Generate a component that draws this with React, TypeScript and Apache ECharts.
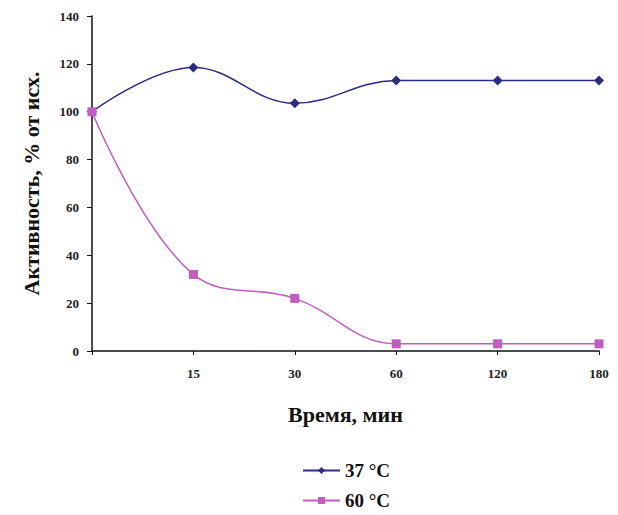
import React, { useEffect, useRef } from "react";
import * as echarts from "echarts";

// Time points (min); the origin has no label
const timeLabels = ["", "15", "30", "60", "120", "180"];
// Relative activity, % of initial
const activity37 = [100, 118.5, 103.5, 113, 113, 113];
const activity60 = [100, 32, 22, 3, 3, 3];
const seriesNames = ["37 °C", "60 °C"];

const FONT = "'Liberation Serif', 'Times New Roman', serif";

export default function App() {
  const ref = useRef<HTMLDivElement>(null);

  useEffect(() => {
    if (!ref.current) return;
    const chart = echarts.init(ref.current, undefined, { renderer: "svg" });
    chart.setOption({
      animation: false,
      backgroundColor: "#ffffff",
      grid: { left: 92, right: 19, top: 16, bottom: 164, containLabel: false },
      legend: {
        orient: "vertical",
        left: 297,
        top: 456,
        itemGap: 11,
        itemWidth: 37,
        itemHeight: 9,
        textStyle: { fontFamily: FONT, fontWeight: "bold", fontSize: 19, color: "#111" },
        data: seriesNames,
      },
      xAxis: {
        type: "category",
        boundaryGap: false,
        data: timeLabels,
        name: "Время, мин",
        nameLocation: "middle",
        nameGap: 52,
        nameTextStyle: { fontFamily: FONT, fontWeight: "bold", fontSize: 22, color: "#111" },
        axisLine: { lineStyle: { color: "#111", width: 1.5 } },
        axisTick: { show: true, length: 4, inside: false, lineStyle: { color: "#111" } },
        axisLabel: { fontFamily: FONT, fontWeight: "bold", fontSize: 13, color: "#222", margin: 16 },
        splitLine: { show: false },
      },
      yAxis: {
        type: "value",
        min: 0,
        max: 140,
        interval: 20,
        name: "Активность, % от исх.",
        nameLocation: "middle",
        nameRotate: 90,
        nameGap: 50,
        nameTextStyle: { fontFamily: FONT, fontWeight: "bold", fontSize: 22, color: "#111" },
        axisLine: { show: true, lineStyle: { color: "#111", width: 1.5 } },
        axisTick: { show: true, length: 5, lineStyle: { color: "#111" } },
        axisLabel: { fontFamily: FONT, fontWeight: "bold", fontSize: 13, color: "#222", margin: 13 },
        splitLine: { show: false },
      },
      series: [
        {
          name: seriesNames[0],
          type: "line",
          data: activity37,
          smooth: 0.4,
          symbol: "diamond",
          symbolSize: 10,
          itemStyle: { color: "#2b2b82" },
          lineStyle: { color: "#2b2b82", width: 1.5 },
        },
        {
          name: seriesNames[1],
          type: "line",
          data: activity60,
          smooth: 0.4,
          symbol: "rect",
          symbolSize: 9,
          itemStyle: { color: "#c25cc0" },
          lineStyle: { color: "#c25cc0", width: 1.5 },
        },
      ],
    });
    return () => chart.dispose();
  }, []);

  return <div ref={ref} style={{ width: 618, height: 515, position: "absolute", left: 0, top: 0 }} />;
}
